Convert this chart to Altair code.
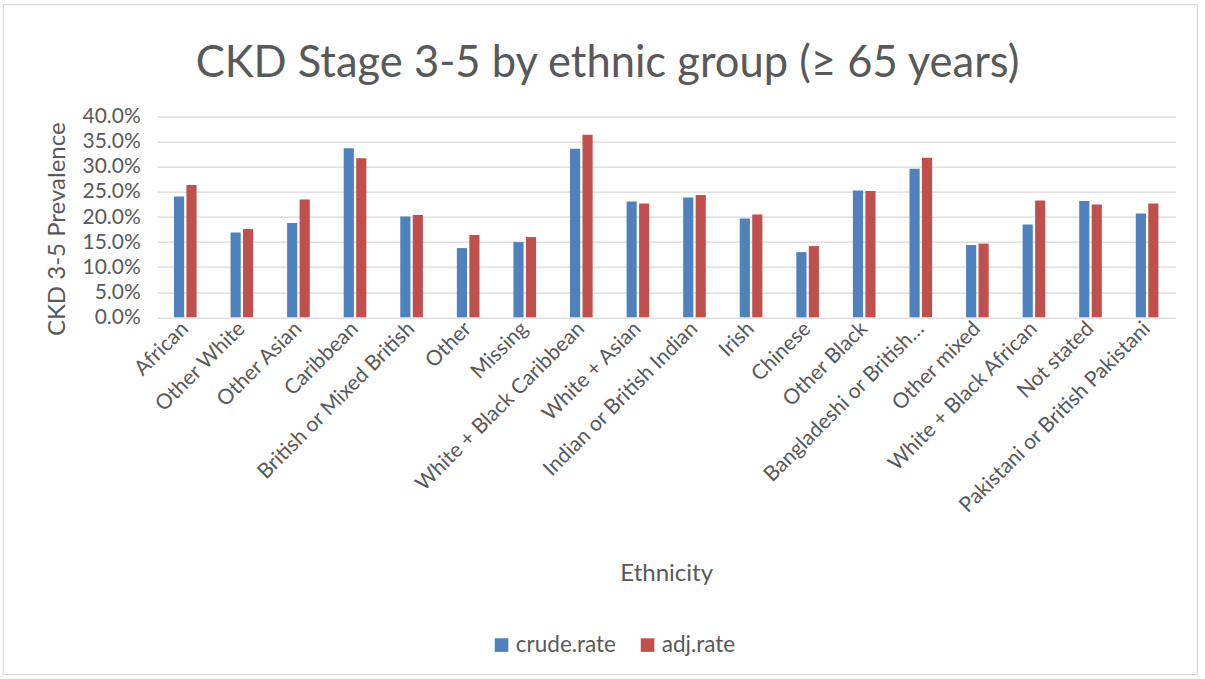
import altair as alt
import pandas as pd

categories = ["African", "Other White", "Other Asian", "Caribbean", "British or Mixed British",
              "Other", "Missing", "White + Black Caribbean", "White + Asian",
              "Indian or British Indian", "Irish", "Chinese", "Other Black",
              "Bangladeshi or British Bangladeshi", "Other mixed", "White + Black African",
              "Not stated", "Pakistani or British Pakistani"]
crude_rate = [0.241, 0.169, 0.188, 0.337, 0.201, 0.138, 0.150, 0.336, 0.231, 0.239,
              0.197, 0.130, 0.253, 0.296, 0.144, 0.185, 0.232, 0.207]
adj_rate = [0.264, 0.176, 0.235, 0.317, 0.204, 0.164, 0.160, 0.364, 0.227, 0.244,
            0.205, 0.142, 0.252, 0.318, 0.147, 0.233, 0.225, 0.227]
series_names = ["crude.rate", "adj.rate"]
series_colors = ["#4F81BD", "#C0504D"]
y_ticks = [0, 0.05, 0.10, 0.15, 0.20, 0.25, 0.30, 0.35, 0.40]

rows = []
for c, cr, ad in zip(categories, crude_rate, adj_rate):
    rows.append({"Ethnicity": c, "series": "crude.rate", "rate": cr})
    rows.append({"Ethnicity": c, "series": "adj.rate", "rate": ad})
df = pd.DataFrame(rows)

FONT = "Lato"
TXT = "#595959"

bars = alt.Chart(df).mark_bar().encode(
    x=alt.X("Ethnicity:N", sort=categories,
            scale=alt.Scale(range=[-6.3, 1012.1], paddingInner=0.6, paddingOuter=0.3),
            axis=alt.Axis(title="Ethnicity", labelAngle=315, labelAlign="right",
                          labelBaseline="middle", labelPadding=8, domain=False, ticks=False,
                          labelFontSize=21, titleFontSize=24, titleY=256,
                          titleBaseline="middle", labelLimit=400,
                          labelExpr="datum.label == 'Bangladeshi or British Bangladeshi' ? 'Bangladeshi or British…' : datum.label")),
    xOffset=alt.XOffset("series:N", sort=series_names, scale=alt.Scale(paddingInner=0.185)),
    y=alt.Y("rate:Q", scale=alt.Scale(domain=[0, 0.4]),
            axis=alt.Axis(format=".1%", values=y_ticks, title="CKD 3-5 Prevalence",
                          grid=True, domain=False, ticks=False, labelPadding=23,
                          labelFontSize=21, titleFontSize=24,
                          titleX=-106, titleY=112, titleAngle=270, titleAlign="center",
                          titleBaseline="middle")),
    color=alt.Color("series:N", sort=series_names,
                    scale=alt.Scale(domain=series_names, range=series_colors),
                    legend=alt.Legend(title=None, orient="none", legendX=327, legendY=517,
                                      direction="horizontal", symbolType="square",
                                      symbolSize=185, labelFontSize=22.5, columnPadding=20,
                                      labelOffset=3, padding=0, symbolStrokeWidth=0)),
)

border = alt.Chart(pd.DataFrame({"k": [0]})).mark_rect(
    filled=False, stroke="#D9D9D9", strokeWidth=1.2
).encode(
    x=alt.value(-160), x2=alt.value(1034), y=alt.value(-112), y2=alt.value(558)
)

chart = alt.layer(border, bars).properties(
    width=1018.4, height=200.6,
    title=alt.Title("CKD Stage 3-5 by ethnic group (≥ 65 years)", fontSize=43.5, font=FONT,
                    color=TXT, fontWeight="normal", anchor="middle", dx=-65, dy=104,
                    offset=22),
    autosize=alt.AutoSizeParams(type="none"),
    padding={"left": 163.3, "top": 116.7, "right": 23.3, "bottom": 361.7},
).configure_view(stroke=None).configure_axis(
    gridColor="#D9D9D9", gridWidth=1.2, labelColor=TXT, titleColor=TXT,
    labelFont=FONT, titleFont=FONT, titleFontWeight="normal"
).configure_legend(labelFont=FONT, labelColor=TXT)

chart.save("out.html", embed_options={"renderer": "svg", "actions": False})
